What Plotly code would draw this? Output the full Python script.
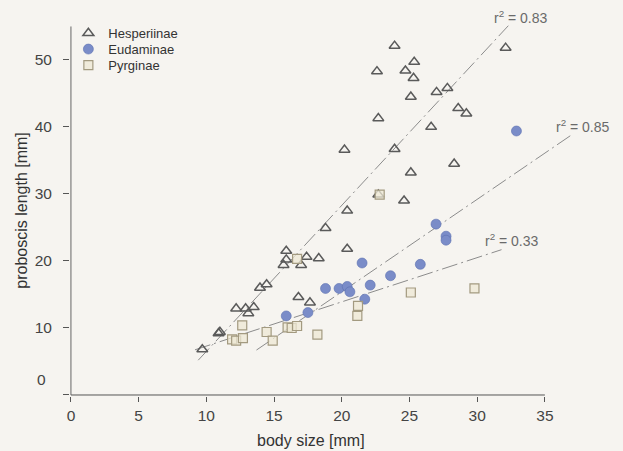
import plotly.graph_objects as go

# ---------------- data ----------------
hesp_x = [9.7, 10.9, 11.0, 12.2, 12.9, 13.5, 13.1, 13.96, 14.45, 15.9, 15.9, 15.7,
          17.4, 18.3, 17.0, 16.8, 17.65, 18.8, 20.4, 20.4, 22.7, 24.6, 25.1, 28.3,
          20.2, 23.9, 26.6, 22.7, 28.6, 29.2, 25.1, 27.0, 27.8, 25.3, 24.7, 22.6,
          25.35, 23.9, 32.1]
hesp_y = [6.8, 9.2, 9.4, 12.9, 12.9, 13.1, 12.2, 16.0, 16.5, 21.5, 20.2, 19.4,
          20.6, 20.4, 19.4, 14.6, 13.8, 24.9, 21.8, 27.5, 29.9, 29.0, 33.2, 34.5,
          36.6, 36.7, 40.0, 41.3, 42.8, 42.0, 44.5, 45.2, 45.8, 47.3, 48.4, 48.3,
          49.7, 52.1, 51.8]

euda_x = [15.9, 17.5, 18.8, 19.8, 20.4, 20.6, 21.7, 22.1, 21.5, 23.6, 25.8,
          26.96, 27.7, 27.7, 32.9]
euda_y = [11.8, 12.3, 15.9, 15.9, 16.2, 15.4, 14.3, 16.4, 19.7, 17.8, 19.5,
          25.5, 23.7, 23.1, 39.4]

pyrg_x = [11.9, 12.2, 12.7, 12.65, 14.45, 14.9, 16.0, 16.3, 16.7, 18.2, 16.7,
          21.15, 21.2, 25.1, 29.8, 22.8]
pyrg_y = [8.3, 8.1, 8.5, 10.4, 9.4, 8.1, 10.1, 10.0, 10.3, 9.0, 20.3,
          11.8, 13.3, 15.3, 15.9, 29.9]

# regression lines (slope, intercept, x extent) and labels
fit_names = ["Hesperiinae", "Eudaminae", "Pyrginae"]
fit_slope = [2.18, 1.38, 0.66]
fit_intercept = [-15.3, -12.2, 0.7]
fit_x_start = [9.4, 13.7, 9.16]
fit_x_end = [32.3, 37.05, 31.8]
fit_labels = ["r<sup>2</sup> = 0.83", "r<sup>2</sup> = 0.85", "r<sup>2</sup> = 0.33"]
label_x = [33.2, 37.8, 32.6]
label_y = [56.4, 40.2, 23.1]

x_ticks = [0, 5, 10, 15, 20, 25, 30, 35]
y_ticks = [0, 10, 20, 30, 40, 50]

FONT = "Liberation Sans, Arial, sans-serif"
BG = "#f6f4f0"

fig = go.Figure()

# regression lines
for i in range(3):
    xs = [fit_x_start[i], fit_x_end[i]]
    ys = [fit_slope[i] * v + fit_intercept[i] for v in xs]
    fig.add_trace(go.Scatter(
        x=xs, y=ys, mode="lines", showlegend=False, hoverinfo="skip",
        line=dict(color="#8c8c8c", width=1, dash="16px,4px,2px,4px")))

fig.add_trace(go.Scatter(
    x=hesp_x, y=hesp_y, mode="markers", name="Hesperiinae", legend="legend",
    marker=dict(symbol="triangle-up-open", size=9.5, color="#5a5a5a",
                line=dict(width=1.5, color="#5a5a5a"))))
fig.add_trace(go.Scatter(
    x=euda_x, y=euda_y, mode="markers", name="Eudaminae", legend="legend2",
    marker=dict(symbol="circle", size=10, color="#7a8cc8",
                line=dict(width=0.6, color="#5c70b0"))))
fig.add_trace(go.Scatter(
    x=pyrg_x, y=pyrg_y, mode="markers", name="Pyrginae", legend="legend3",
    marker=dict(symbol="square", size=9, color="rgba(238,232,212,0.75)",
                line=dict(width=1.2, color="#a39a80"))))

# axis lines drawn only over the labelled span
fig.add_shape(type="line", xref="x", yref="y", x0=0, x1=35, y0=0, y1=0,
              line=dict(color="#555555", width=1))
fig.add_shape(type="line", xref="x", yref="y", x0=0, x1=0, y0=0, y1=55,
              line=dict(color="#666666", width=1))

annotations = []
for i in range(3):
    annotations.append(dict(x=label_x[i], y=label_y[i], xref="x", yref="y",
                            text=fit_labels[i], showarrow=False,
                            font=dict(family=FONT, size=14, color="#6a6a6a")))
# y "0" label lifted above the x-axis
annotations.append(dict(x=0, y=0, xref="paper", yref="y", xanchor="right",
                        yanchor="middle", xshift=-22, yshift=15, text="0",
                        showarrow=False,
                        font=dict(family=FONT, size=15.5, color="#444444")))
# axis titles
annotations.append(dict(x=17.7, y=0, xref="x", yref="paper", yanchor="middle",
                        yshift=-44, text="body size [mm]", showarrow=False,
                        font=dict(family=FONT, size=16, color="#333333")))
annotations.append(dict(x=0, y=27.5, xref="paper", yref="y", xanchor="center",
                        xshift=-48, textangle=-90, text="proboscis length [mm]",
                        showarrow=False,
                        font=dict(family=FONT, size=16, color="#333333")))

legend_style = dict(x=-0.003, xanchor="left", yanchor="middle",
                    bgcolor="rgba(0,0,0,0)", itemwidth=30,
                    font=dict(family=FONT, size=13, color="#333333"))

fig.update_layout(
    width=623, height=451,
    margin=dict(l=70, r=10, t=13, b=55),
    paper_bgcolor=BG, plot_bgcolor=BG,
    font=dict(family=FONT, color="#444444"),
    showlegend=True,
    legend=dict(y=0.9475, **legend_style),
    legend2=dict(y=0.9057, **legend_style),
    legend3=dict(y=0.8639, **legend_style),
    annotations=annotations,
    xaxis=dict(range=[-0.07, 40.03], showgrid=False, zeroline=False, showline=False,
               tickvals=x_ticks, ticktext=[str(v) for v in x_ticks],
               ticks="outside", ticklen=5, tickwidth=1, tickcolor="#555555",
               tickfont=dict(family=FONT, size=15.5, color="#444444")),
    yaxis=dict(range=[-0.15, 57.01], showgrid=False, zeroline=False, showline=False,
               tickvals=y_ticks, ticktext=[""] + [str(v) for v in y_ticks[1:]],
               ticks="outside", ticklen=6, tickwidth=1, tickcolor="#555555",
               ticklabelstandoff=8,
               tickfont=dict(family=FONT, size=15.5, color="#444444")),
)

fig.write_html("out.html", config={"displayModeBar": False},
               post_script="document.body.style.margin='0';")
